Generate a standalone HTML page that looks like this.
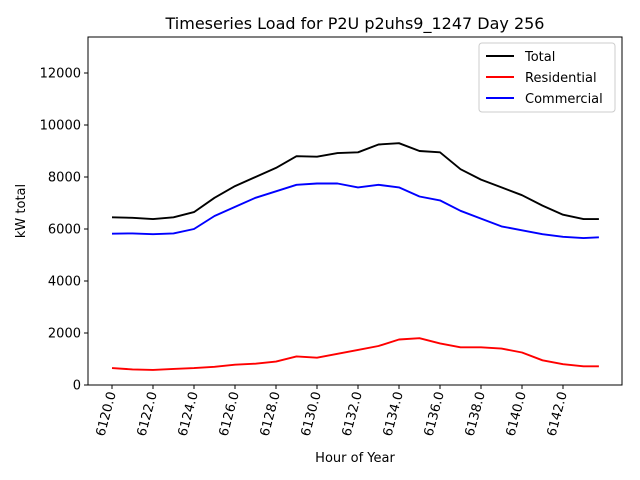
<!DOCTYPE html>
<html><head><meta charset="utf-8"><style>body{margin:0;background:#fff}svg{display:block;font-family:"DejaVu Sans","Liberation Sans",sans-serif}</style></head>
<body>
<svg id="s" width="640" height="480" xmlns="http://www.w3.org/2000/svg">
<rect width="640" height="480" fill="#fff"/>
<text x="355" y="29" font-size="16" text-anchor="middle">Timeseries Load for P2U p2uhs9_1247  Day 256</text>
<g id="plot"></g>
<rect x="88" y="37" width="534" height="348" fill="none" stroke="#000" stroke-width="1"/>
<text x="355" y="462" font-size="13" text-anchor="middle">Hour of Year</text>
<text transform="translate(25,211) rotate(-90)" font-size="13" text-anchor="middle">kW total</text>
<g id="ax" font-size="13"></g>
<rect x="479" y="43" width="136" height="69" fill="#fff" stroke="#ccc" rx="3"/>
<line x1="486" y1="56" x2="514" y2="56" stroke="#000" stroke-width="2"/>
<text x="525" y="61" font-size="13">Total</text>
<line x1="486" y1="77" x2="514" y2="77" stroke="red" stroke-width="2"/>
<text x="525" y="82" font-size="13">Residential</text>
<line x1="486" y1="98" x2="514" y2="98" stroke="blue" stroke-width="2"/>
<text x="525" y="103" font-size="13">Commercial</text>
</svg>
<script>
var X=function(h){return 112+(h-6120)*20.5},Y=function(v){return 385-v*0.026};
var ax=document.getElementById('ax'),p=document.getElementById('plot'),h='';
for(var v=0;v<=12000;v+=2000){var y=Y(v);h+='<line x1="84" y1="'+y+'" x2="88" y2="'+y+'" stroke="#000"/><text x="81" y="'+(y+4.5)+'" text-anchor="end">'+v+'</text>';}
for(var t=6120;t<=6142;t+=2){var x=X(t);h+='<line x1="'+x+'" y1="385" x2="'+x+'" y2="389" stroke="#000"/><text transform="translate('+(x+4)+',393) rotate(-75)" text-anchor="end">'+t+'.0</text>';}
ax.innerHTML=h;
var T=[6450,6430,6380,6450,6650,7200,7650,8000,8350,8800,8780,8920,8950,9250,9300,9000,8950,8300,7900,7600,7300,6900,6550,6380,6380];
var C=[5820,5830,5800,5830,6000,6500,6850,7200,7450,7700,7750,7750,7600,7700,7600,7250,7100,6700,6400,6100,5950,5800,5700,5650,5680];
var R=[650,600,580,620,650,700,780,820,900,1100,1050,1200,1350,1500,1750,1800,1600,1450,1450,1400,1250,950,800,720,720];
function path(a,c){var s='';for(var i=0;i<a.length;i++){var hh=6120+Math.min(i,23.75);s+=(i?'L':'M')+X(hh).toFixed(1)+','+Y(a[i]).toFixed(1);}return '<path d="'+s+'" fill="none" stroke="'+c+'" stroke-width="1.9" stroke-linejoin="round"/>';}
p.innerHTML=path(T,'#000')+path(R,'red')+path(C,'blue');
</script>
</body></html>
